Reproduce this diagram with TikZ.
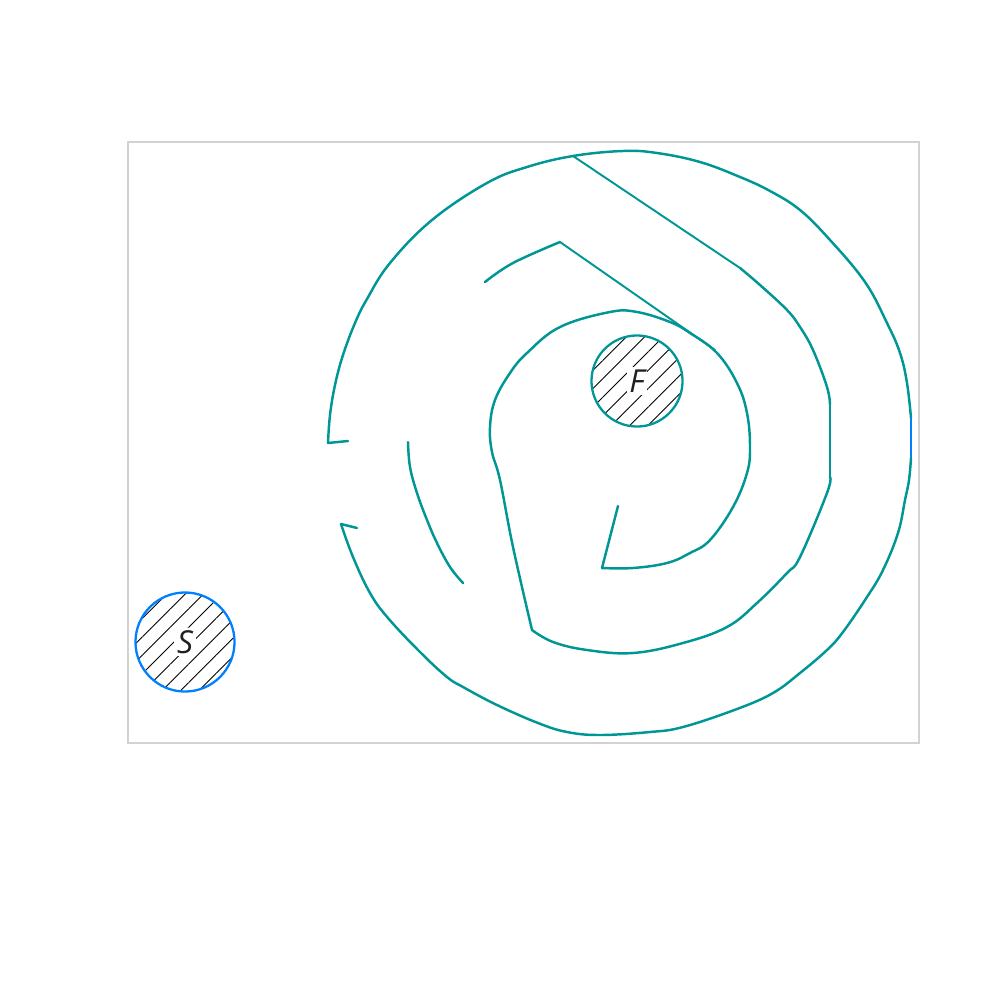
\documentclass[tikz,border=0pt]{standalone}
\usepackage{fontspec}
\setsansfont{Open Sans}
\usetikzlibrary{patterns.meta}
\definecolor{mazeTeal}{RGB}{0, 150, 150}
\definecolor{startBlue}{RGB}{0, 128, 255}

\begin{document}
\begin{tikzpicture}[x=0.01cm, y=-0.01cm,
  wall/.style={mazeTeal, line width=0.7pt, line join=round, line cap=round},
  thinwall/.style={mazeTeal, line width=0.55pt, line cap=round},
  hatched/.style={circle, inner sep=0pt, line width=0.65pt, pattern={Lines[angle=45, distance=3.7pt, line width=0.25pt]}},
  tag/.style={fill=white, inner sep=0.8pt, text=gray!25!black, font=\sffamily\itshape\fontsize{9}{10}\selectfont}]
\useasboundingbox (0,0) rectangle (1000,1000);
\draw[gray!35, line width=0.3pt] (128,142) rectangle (919,743);
% start and finish
\node[hatched, draw=startBlue, minimum size=0.99cm] (start) at (185,642) {};
\node[tag] (startlabel) at (start) {S};
\node[hatched, draw=mazeTeal, minimum size=0.91cm] (finish) at (637,381) {};
\node[tag] (finishlabel) at (finish) {F};
% outer wall
\draw[wall] (348,441) -- (328,443);
\draw[wall] plot[smooth, tension=0.65] coordinates {(328,443) (330,415) (335,385) (343,355) (355,323) (367,299) (390,263) (432,220) (487,183) (527,167) (573,156) (623,151) (657,153) (700,162) (740,177) (770,191) (800,210) (830,240) (865,282) (887,323) (900,353) (907,383) (911,418)};
\draw[startBlue, line width=0.55pt] (911,418) -- (911,458);
\draw[wall] plot[smooth, tension=0.65] coordinates {(911,458) (909,480) (905,500) (898,533) (883,570) (867,597) (843,632) (827,650) (800,673) (773,693) (737,709) (683,727) (650,732) (600,735) (567,732) (538,723) (497,705) (463,687) (447,677) (420,652) (388,618) (370,593) (353,557) (341,524)};
\draw[wall] (341,524) -- (357,528);
% spiral
\draw[wall] (618,506) -- (602,568);
\draw[wall] plot[smooth, tension=0.65] coordinates {(602,568) (633,568) (667,563) (690,553) (710,540) (733,507) (747,473) (750,447) (747,413) (737,383) (717,353) (690,333) (670,322) (637,312) (610,312) (560,327) (527,353) (510,373) (495,400) (490,427) (492,452) (500,480) (513,547) (532,630)};
\draw[wall] plot[smooth, tension=0.65] coordinates {(532,630) (553,642) (587,650) (633,653) (683,643) (727,627) (757,603) (787,573) (800,557) (827,493) (830,477)};
\draw[wall] (830,477) -- (830,405);
\draw[wall] plot[smooth, tension=0.65] coordinates {(830,405) (827,387) (813,350) (800,327) (787,310) (760,285) (740,268)};
\draw[thinwall] (740,268) -- (573,156);
% inner walls
\draw[wall] plot[smooth, tension=0.65] coordinates {(485,282) (513,263) (560,242)};
\draw[thinwall] (560,242) -- (715,350);
\draw[wall] plot[smooth, tension=0.65] coordinates {(408,442) (410,467) (417,493) (427,520) (437,543) (450,567) (463,583)};
\end{tikzpicture}
\end{document}
